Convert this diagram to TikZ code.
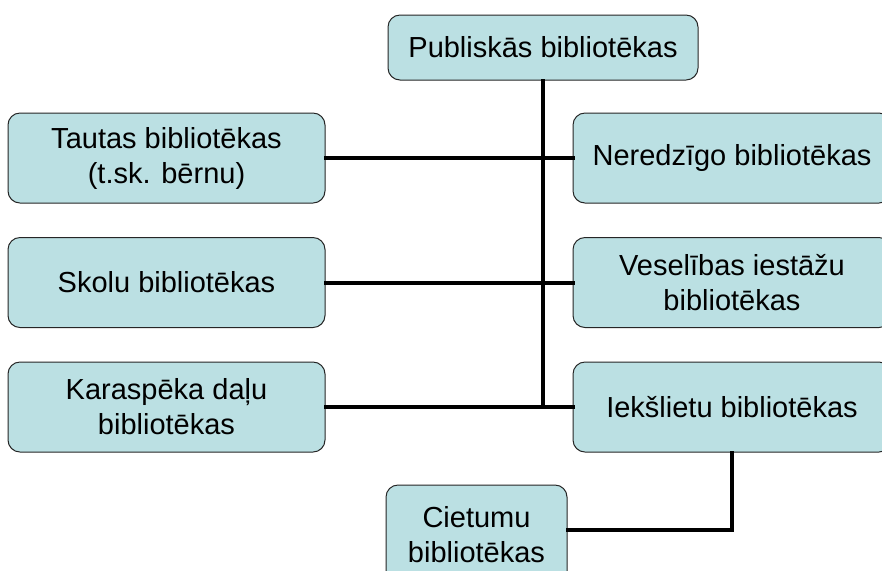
\documentclass[tikz,border=0pt]{standalone}
\usepackage{fontspec}
\setmainfont{Liberation Sans}
\begin{document}
\begin{tikzpicture}[x=0.5pt,y=-0.5pt,
  box/.style={draw=black!85, line width=0.5pt, fill=boxfill, rounded corners=6pt,
    align=center, inner sep=0pt, font=\fontsize{14.5}{17.5}\selectfont},
  link/.style={line width=2pt, line cap=rect}]
\definecolor{boxfill}{HTML}{BBE0E3}
\clip (0,0) rectangle (882,570);
\fill[white] (0,0) rectangle (882,570);
% nodes
\node[box, minimum width=155pt, minimum height=32.5pt] (pub) at (543,47.5) {Publiskās bibliotēkas};
\node[box, minimum width=158.5pt, minimum height=45pt] (taut) at (166.5,158) {Tautas bibliotēkas\\(t.sk. bērnu)};
\node[box, minimum width=158.5pt, minimum height=45pt] (skol) at (166.5,282.5) {Skolu bibliotēkas};
\node[box, minimum width=158.5pt, minimum height=45pt] (kara) at (166.5,407) {Karaspēka daļu\\bibliotēkas};
\node[box, minimum width=159pt, minimum height=45pt] (nere) at (732,158) {Neredzīgo bibliotēkas};
\node[box, minimum width=159pt, minimum height=45pt] (vese) at (732,282.5) {Veselības iestāžu\\bibliotēkas};
\node[box, minimum width=159pt, minimum height=45pt] (ieks) at (732,407) {Iekšlietu bibliotēkas};
\node[box, minimum width=90.5pt, minimum height=50pt] (ciet) at (476.5,535) {Cietumu\\bibliotēkas};
\coordinate (junc) at (543,407);
\coordinate (bend) at (732,530);
% connectors
\draw[link] (pub.south) -- (junc);
\draw[link] (taut.east) -- (nere.west);
\draw[link] (skol.east) -- (vese.west);
\draw[link] (kara.east) -- (ieks.west);
\draw[link] (ieks.south) -- (bend) -- (ciet.east |- bend);
\end{tikzpicture}
\end{document}
